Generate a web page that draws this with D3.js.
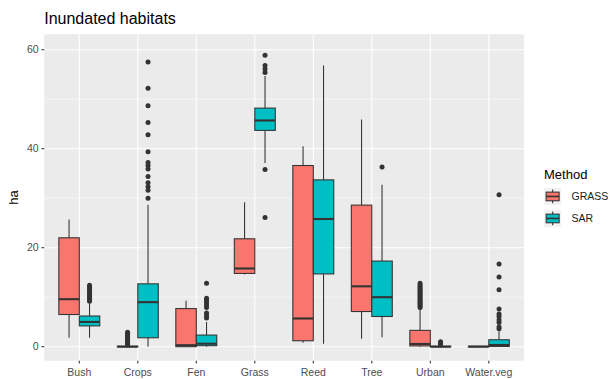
<!DOCTYPE html>
<html><head><meta charset="utf-8">
<script src="https://cdn.jsdelivr.net/npm/d3@7"></script>
<style>body{margin:0;background:#fff}svg{display:block;font-family:"Liberation Sans",Arial,sans-serif}</style>
</head><body><svg id="c" width="610" height="379"></svg>
<script>
const categories = ["Bush","Crops","Fen","Grass","Reed","Tree","Urban","Water.veg"];
const methods = ["GRASS","SAR"];
const colors = ["#F8766D","#00BFC4"];
const yTicks = [0,20,40,60];
const yMinor = [10,30,50];

// GRASS stats per category
const grassLow = [1.8, 0, 0, 14.6, 0.8, 1.6, 0, 0];
const grassQ1 = [6.5, 0, 0, 14.8, 1.2, 7.1, 0.15, 0];
const grassMed = [9.6, 0, 0.3, 15.8, 5.7, 12.2, 0.55, 0];
const grassQ3 = [22.0, 0.1, 7.7, 21.8, 36.6, 28.6, 3.3, 0.1];
const grassHigh = [25.7, 0.2, 9.3, 29.2, 40.5, 45.9, 7.7, 0.2];
const grassOut = [
  [],
  [0.4,0.6,0.8,1.0,1.2,1.5,1.8,2.1,2.4,2.7,2.9],
  [], [], [], [],
  [7.9,8.2,8.5,8.8,9.1,9.4,9.7,10.0,10.3,10.6,10.9,11.2,11.5,11.8,12.1,12.4,12.8],
  []
];
// SAR stats per category
const sarLow = [1.8, 0, 0, 37.1, 0.6, 1.9, 0, 0];
const sarQ1 = [4.2, 1.8, 0.2, 43.7, 14.7, 6.1, 0, 0.05];
const sarMed = [5.0, 9.0, 0.6, 45.7, 25.8, 10.0, 0, 0.35];
const sarQ3 = [6.2, 12.7, 2.35, 48.2, 33.7, 17.3, 0.1, 1.4];
const sarHigh = [8.8, 28.7, 5.0, 54.7, 56.8, 32.7, 0.3, 3.1];
const sarOut = [
  [9.2,9.6,10.0,10.4,10.8,11.2,11.6,12.0,12.4],
  [30.0,31.6,32.3,33.1,34.4,35.9,36.6,37.2,39.4,42.8,45.3,48.7,52.2,57.5],
  [5.8,6.3,6.8,7.9,8.4,8.9,9.4,9.8,12.8],
  [26.1,35.8,55.4,56.1,56.8,58.9],
  [],
  [36.3],
  [0.4,0.7,1.0],
  [3.6,4.0,4.9,5.4,6.1,6.6,7.6,11.5,14.1,16.7,30.7]
];

const stats = [
  {low:grassLow,q1:grassQ1,med:grassMed,q3:grassQ3,high:grassHigh,out:grassOut},
  {low:sarLow,q1:sarQ1,med:sarMed,q3:sarQ3,high:sarHigh,out:sarOut}
];

const svg = d3.select("#c");
const P = {l:44.2, r:523.9, t:34.3, b:360.7};

const x = d3.scalePoint().domain(categories).range([P.l, P.r]).padding(0.6);
const step = x.step();
const xm = d3.scaleBand().domain(methods).range([-0.35*step, 0.35*step]).paddingInner(0);
const bw = 0.35*step;
const y = d3.scaleLinear().domain([-2.83, 63.11]).range([P.b, P.t]);

// panel
svg.append("rect").attr("x",P.l).attr("y",P.t).attr("width",P.r-P.l).attr("height",P.b-P.t).attr("fill","#ebebeb");
const g = svg.append("g");
yMinor.forEach(v=>g.append("line").attr("x1",P.l).attr("x2",P.r).attr("y1",y(v)).attr("y2",y(v)).attr("stroke","#fff").attr("stroke-width",0.55));
yTicks.forEach(v=>g.append("line").attr("x1",P.l).attr("x2",P.r).attr("y1",y(v)).attr("y2",y(v)).attr("stroke","#fff").attr("stroke-width",1.1));
categories.forEach(c=>g.append("line").attr("x1",x(c)).attr("x2",x(c)).attr("y1",P.t).attr("y2",P.b).attr("stroke","#fff").attr("stroke-width",1.1));

// boxes
const bx = svg.append("g");
methods.forEach((m,mi)=>{
  const s = stats[mi];
  categories.forEach((c,ci)=>{
    const cx = x(c) + xm(m) + bw/2;
    const x0 = x(c) + xm(m);
    // whiskers
    bx.append("line").attr("x1",cx).attr("x2",cx).attr("y1",y(s.q3[ci])).attr("y2",y(s.high[ci])).attr("stroke","#333").attr("stroke-width",1.07);
    bx.append("line").attr("x1",cx).attr("x2",cx).attr("y1",y(s.q1[ci])).attr("y2",y(s.low[ci])).attr("stroke","#333").attr("stroke-width",1.07);
    bx.append("rect").attr("x",x0).attr("y",y(s.q3[ci])).attr("width",bw).attr("height",Math.max(0,y(s.q1[ci])-y(s.q3[ci])))
      .attr("fill",colors[mi]).attr("stroke","#333").attr("stroke-width",1.07);
    bx.append("line").attr("x1",x0).attr("x2",x0+bw).attr("y1",y(s.med[ci])).attr("y2",y(s.med[ci])).attr("stroke","#333").attr("stroke-width",2.1);
    s.out[ci].forEach(v=>bx.append("circle").attr("cx",cx).attr("cy",y(v)).attr("r",2.5).attr("fill","#333"));
  });
});

// axes
const ax = svg.append("g").attr("font-size","10.5px").attr("fill","#4d4d4d");
yTicks.forEach(v=>{
  ax.append("line").attr("x1",P.l-2.7).attr("x2",P.l).attr("y1",y(v)).attr("y2",y(v)).attr("stroke","#333").attr("stroke-width",1.07);
  ax.append("text").attr("x",P.l-5.5).attr("y",y(v)).attr("dy","0.35em").attr("text-anchor","end").text(v);
});
categories.forEach(c=>{
  ax.append("line").attr("x1",x(c)).attr("x2",x(c)).attr("y1",P.b).attr("y2",P.b+2.7).attr("stroke","#333").attr("stroke-width",1.07);
  ax.append("text").attr("x",x(c)).attr("y",376).attr("text-anchor","middle").text(c);
});
svg.append("text").attr("transform",`translate(18,${(P.t+P.b)/2}) rotate(-90)`).attr("text-anchor","middle").attr("font-size","13px").attr("fill","#000").text("ha");
svg.append("text").attr("x",P.l).attr("y",24).attr("font-size","16px").attr("fill","#000").text("Inundated habitats");

// legend
const lg = svg.append("g");
lg.append("text").attr("x",544).attr("y",178.5).attr("font-size","13px").attr("fill","#000").text("Method");
const keyS = 17.3, keyY = [187.8, 209.8];
methods.forEach((m,mi)=>{
  const kx = 544, ky = keyY[mi];
  lg.append("rect").attr("x",kx).attr("y",ky).attr("width",keyS).attr("height",keyS).attr("fill","#f2f2f2");
  lg.append("line").attr("x1",kx+keyS/2).attr("x2",kx+keyS/2).attr("y1",ky+keyS*0.1).attr("y2",ky+keyS*0.9).attr("stroke","#333").attr("stroke-width",1.07);
  lg.append("rect").attr("x",kx+keyS*0.125).attr("y",ky+keyS*0.25).attr("width",keyS*0.75).attr("height",keyS*0.5).attr("fill",colors[mi]).attr("stroke","#333").attr("stroke-width",1.07);
  lg.append("line").attr("x1",kx+keyS*0.125).attr("x2",kx+keyS*0.875).attr("y1",ky+keyS/2).attr("y2",ky+keyS/2).attr("stroke","#333").attr("stroke-width",1.6);
  lg.append("text").attr("x",571.5).attr("y",ky+keyS/2).attr("dy","0.35em").attr("font-size","10.5px").attr("fill","#1a1a1a").text(m);
});
</script></body></html>
